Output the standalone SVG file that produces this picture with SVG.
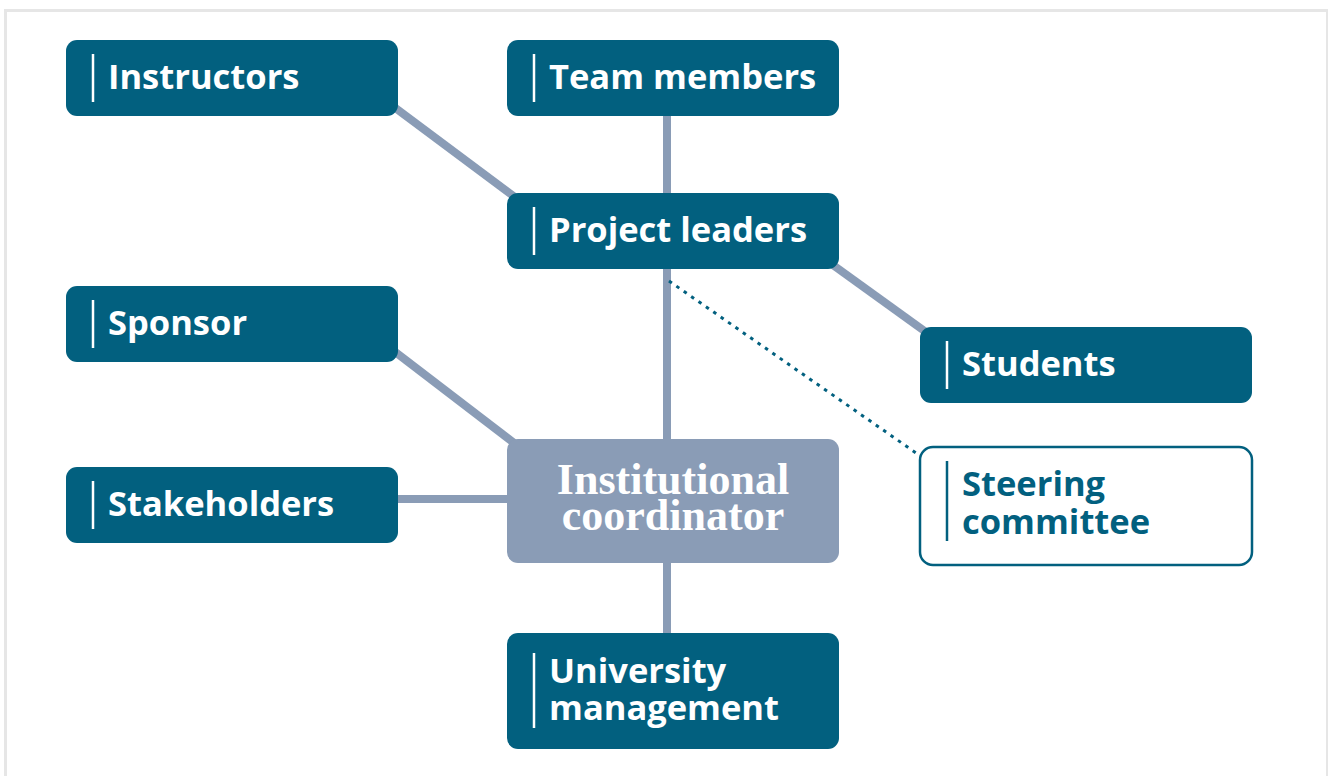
<svg xmlns="http://www.w3.org/2000/svg" width="1328" height="776" viewBox="0 0 1328 776">
<style>
.n{fill:#02607f}
.lbl{font-family:"Open Sans","Noto Sans","Liberation Sans",sans-serif;font-weight:700;font-size:34.5px;fill:#fff}
.lbl2{font-family:"Open Sans","Noto Sans","Liberation Sans",sans-serif;font-weight:700;font-size:34.5px;fill:#02607f}
.bar{stroke:#fff;stroke-width:2.5}
.bar2{stroke:#02607f;stroke-width:2.5}
.c{stroke:#8a9cb6;stroke-width:8;fill:none}
.ser{font-family:"Liberation Serif","Times New Roman",serif;font-weight:700;font-size:44px;fill:#fff;text-anchor:middle}
</style>
<rect x="5.5" y="10.5" width="1322" height="800" fill="#fff" stroke="#e6e6e6" stroke-width="3"/>
<g id="connectors">
<line class="c" x1="390" y1="104" x2="520" y2="201"/>
<line class="c" x1="667" y1="110" x2="667" y2="640"/>
<line class="c" x1="826" y1="260" x2="930" y2="335"/>
<line class="c" x1="390" y1="348" x2="518" y2="446"/>
<line class="c" x1="395" y1="499" x2="512" y2="499"/>
<line x1="669" y1="281" x2="919" y2="455" stroke="#02607f" stroke-width="3" stroke-dasharray="3.5 5.5"/>
</g>
<g id="instructors">
<rect class="n" x="66" y="40" width="332" height="76" rx="11"/>
<line class="bar" x1="93" y1="54" x2="93" y2="102"/>
<text class="lbl" x="108" y="89">Instructors</text>
</g>
<g id="team-members">
<rect class="n" x="507" y="40" width="332" height="76" rx="11"/>
<line class="bar" x1="534" y1="54" x2="534" y2="102"/>
<text class="lbl" x="549" y="89">Team members</text>
</g>
<g id="project-leaders">
<rect class="n" x="507" y="193" width="332" height="76" rx="11"/>
<line class="bar" x1="534" y1="207" x2="534" y2="255"/>
<text class="lbl" x="549" y="242">Project leaders</text>
</g>
<g id="sponsor">
<rect class="n" x="66" y="286" width="332" height="76" rx="11"/>
<line class="bar" x1="93" y1="300" x2="93" y2="348"/>
<text class="lbl" x="108" y="335">Sponsor</text>
</g>
<g id="students">
<rect class="n" x="920" y="327" width="332" height="76" rx="11"/>
<line class="bar" x1="947" y1="341" x2="947" y2="389"/>
<text class="lbl" x="962" y="376">Students</text>
</g>
<g id="stakeholders">
<rect class="n" x="66" y="467" width="332" height="76" rx="11"/>
<line class="bar" x1="93" y1="481" x2="93" y2="529"/>
<text class="lbl" x="108" y="516">Stakeholders</text>
</g>
<g id="institutional-coordinator">
<rect x="507" y="439" width="332" height="124" rx="11" fill="#8a9cb6"/>
<text class="ser" x="673" y="494">Institutional</text>
<text class="ser" x="673" y="530">coordinator</text>
</g>
<g id="steering-committee">
<rect x="920" y="447" width="332" height="118" rx="13" fill="#fff" stroke="#02607f" stroke-width="2.5"/>
<line class="bar2" x1="947" y1="461" x2="947" y2="541"/>
<text class="lbl2" x="962" y="496">Steering</text>
<text class="lbl2" x="962" y="534">committee</text>
</g>
<g id="university-management">
<rect class="n" x="507" y="633" width="332" height="116" rx="11"/>
<line class="bar" x1="534" y1="653" x2="534" y2="728"/>
<text class="lbl" x="549" y="683">University</text>
<text class="lbl" x="549" y="720">management</text>
</g>
</svg>
